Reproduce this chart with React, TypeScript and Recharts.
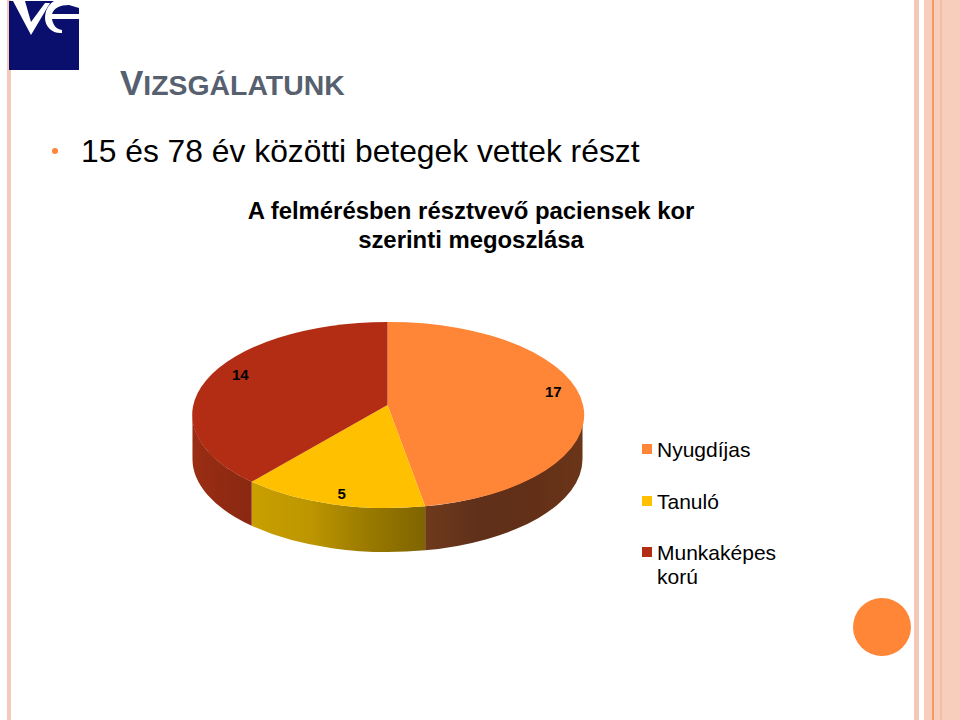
import React from "react";
import { PieChart, Pie, Legend } from "recharts";

const CATEGORIES = ["Nyugdíjas", "Tanuló", "Munkaképes korú"];
const VALUES = [17, 5, 14];
const TOP_COLORS = ["#ff8537", "#ffc000", "#b22d13"];
const WALL_STOPS = [
  ["#6e3a1c", "#60301a", "#622f17", "#6b3519"],
  ["#c99f00", "#bd9600", "#9a7a00", "#7f6400"],
  ["#9a2e14", "#942b13", "#8f2a12", "#8a2811"],
];
const LABEL_NUDGE = [
  [3, -7],
  [1, 6],
  [3, -5],
];
const chartData = CATEGORIES.map((name, i) => ({ name, value: VALUES[i], fill: TOP_COLORS[i] }));

const FONT = "'Liberation Sans', Arial, sans-serif";
const RY = 93;
const DEPTH = 44;
const P = 0.1075;
const A = 92;
const XK = 193.9 / 195;
const WALL_EDGE = 6.17;
const rad = Math.PI / 180;

// Perspective projection of a pie angle (degrees) at a fraction k of the radius.
function pt(cx: number, cy: number, r: number, a: number, k = 1) {
  const u = Math.cos(a * rad) * k;
  const v = -Math.sin(a * rad) * k;
  const w = 1 - P * v;
  return [cx + (r * XK * u) / w, cy + (A * v) / w];
}

function EllipseSlice(props: any) {
  const { cx, cy, outerRadius: r, startAngle, endAngle, fill, index } = props;
  const [x1, y1] = pt(cx, cy, r, startAngle);
  const [x2, y2] = pt(cx, cy, r, endAngle);
  const large = Math.abs(startAngle - endAngle) > 180 ? 1 : 0;
  const top = `M${cx},${cy} L${x1},${y1} A${r},${RY} 0 ${large} 1 ${x2},${y2} Z`;
  const a1 = Math.min(startAngle, -WALL_EDGE);
  const a2 = Math.max(endAngle, -180 + WALL_EDGE);
  let wall = null;
  if (a1 > a2) {
    const [wx1, wy1] = pt(cx, cy, r, a1);
    const [wx2, wy2] = pt(cx, cy, r, a2);
    const d = `M${wx1},${wy1} A${r},${RY} 0 0 1 ${wx2},${wy2} L${wx2},${wy2 + DEPTH} A${r},${RY} 0 0 0 ${wx1},${wy1 + DEPTH} Z`;
    const stops = WALL_STOPS[index ?? 0];
    const id = `wall-${index}`;
    wall = (
      <g>
        <defs>
          <linearGradient id={id} x1="0" y1="0" x2="1" y2="0">
            {stops.map((c: string, i: number) => (
              <stop key={i} offset={i / (stops.length - 1)} stopColor={c} />
            ))}
          </linearGradient>
        </defs>
        <path d={d} fill={`url(#${id})`} />
      </g>
    );
  }
  return (
    <g>
      {wall}
      <path d={top} fill={fill} />
    </g>
  );
}

function SliceLabel(props: any) {
  const { cx, cy, outerRadius: r, midAngle, value, index } = props;
  const [x, y] = pt(cx, cy, r, midAngle, 0.85);
  const n = LABEL_NUDGE[index] ?? [0, 0];
  return (
    <text x={x + n[0]} y={y + n[1]} textAnchor="middle" dominantBaseline="central" fontFamily={FONT} fontSize={15} fontWeight={700} fill="#000">
      {value}
    </text>
  );
}

function LegendBox({ payload }: any) {
  return (
    <div style={{ fontFamily: FONT, fontSize: 21, lineHeight: "24px", color: "#000" }}>
      {(payload ?? []).map((p: any, i: number) => (
        <div key={i} style={{ position: "relative", paddingLeft: 15, height: i === 2 ? 48 : 51.5, width: 130 }}>
          <span style={{ position: "absolute", left: 0, top: 6, width: 10, height: 10, background: p.color }} />
          {p.value}
        </div>
      ))}
    </div>
  );
}

function Logo() {
  return (
    <svg width={70} height={70} style={{ position: "absolute", left: 9, top: 0 }}>
      <rect x={0} y={1} width={70} height={69} fill="#0a0f6e" />
      <path d="M4,1 L16,1 L22,22 L36,3 L41,3 L22,35 Z" fill="#fff" />
      <path d="M36,18 C36,27 44,34 53,33 L53,30 C47,29 44,25 43,19 L70,19 L70,14 L43,14 C45,8 51,5 60,5 L70,8 L70,1 L45,1 C39,5 36,11 36,18 Z" fill="#fff" />
    </svg>
  );
}

function Band({ left, width, color }: { left: number; width: number; color: string }) {
  return <div style={{ position: "absolute", left, top: 0, width, height: 720, background: color }} />;
}

export default function App() {
  return (
    <div style={{ position: "absolute", left: 0, top: 0, width: 960, height: 720, background: "#fff", overflow: "hidden", fontFamily: FONT }}>
      <Band left={7} width={4} color="#f6c9ba" />
      <Band left={914} width={5} color="#f5c8ba" />
      <Band left={924} width={36} color="#f7cdbc" />
      <Band left={932} width={2} color="#f59a63" />
      <Band left={940} width={2} color="#f5bda5" />
      <div style={{ position: "absolute", left: 853, top: 598, width: 58, height: 58, borderRadius: 29, background: "#ff8537" }} />
      <Logo />
      <div style={{ position: "absolute", left: 120, top: 63, color: "#57606f", fontWeight: 700, fontSize: 28.4, lineHeight: "40px", whiteSpace: "nowrap" }}>
        <span style={{ fontSize: 35 }}>V</span>IZSGÁLATUNK
      </div>
      <div style={{ position: "absolute", left: 52, top: 148, width: 6, height: 6, borderRadius: 3, background: "#ff8537" }} />
      <div style={{ position: "absolute", left: 81, top: 132, color: "#000", fontSize: 31.8, lineHeight: "38px", whiteSpace: "nowrap" }}>
        15 és 78 év közötti betegek vettek részt
      </div>
      <div style={{ position: "absolute", left: 171, top: 197, width: 600, textAlign: "center", color: "#000", fontWeight: 700, fontSize: 23.9, lineHeight: "28.5px" }}>
        A felmérésben résztvevő paciensek kor
        <br />
        szerinti megoszlása
      </div>
      <div style={{ position: "absolute", left: 0, top: 0 }}>
        <PieChart width={960} height={720} margin={{ top: 0, right: 0, bottom: 0, left: 0 }}>
          <Pie
            data={chartData}
            dataKey="value"
            nameKey="name"
            cx={387.5}
            cy={405}
            outerRadius={195}
            startAngle={90}
            endAngle={-270}
            stroke="none"
            isAnimationActive={false}
            shape={EllipseSlice}
            label={SliceLabel}
            labelLine={false}
          />
          <Legend
            layout="vertical"
            content={LegendBox}
            itemSorter={null}
            wrapperStyle={{ position: "absolute", left: 642, top: 438, width: 150, bottom: "auto" }}
          />
        </PieChart>
      </div>
    </div>
  );
}
